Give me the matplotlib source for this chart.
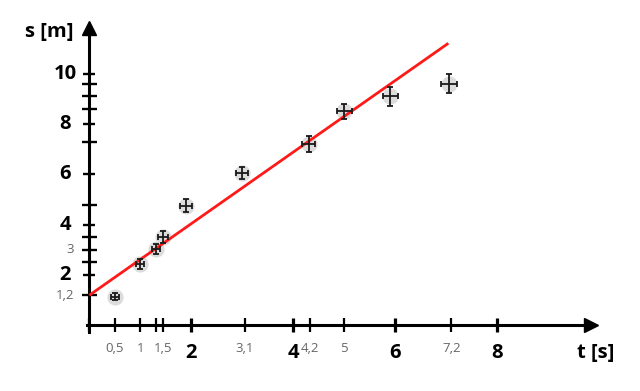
import matplotlib.pyplot as plt
import matplotlib.transforms as mtransforms
import numpy as np

plt.rcParams['font.family'] = ['Open Sans', 'DejaVu Sans']

# measured points (t in s, s in m) with their uncertainties
t = np.array([0.5, 1.0, 1.3, 1.45, 1.9, 3.0, 4.3, 5.0, 5.9, 7.05])
s = np.array([1.15, 2.45, 3.05, 3.5, 4.75, 6.05, 7.2, 8.5, 9.1, 9.6])
t_err = np.array([0.075, 0.08, 0.08, 0.1, 0.12, 0.12, 0.12, 0.15, 0.15, 0.15])
s_err = np.array([0.13, 0.19, 0.2, 0.24, 0.25, 0.24, 0.31, 0.3, 0.38, 0.39])

# fitted line endpoints
line_t = [0.0, 7.04]
line_s = [1.2, 11.2]

# axis ticks and labels (hand-placed on the original drawing)
x_major = [2, 4, 6, 8]
x_minor = [0, 0.5, 1, 1.3, 1.44, 3.05, 4.33, 5, 7.1]
x_minor_labels = ["", "0,5", "1", "", "1,5", "3,1", "4,2", "5", "7,2"]
y_major = [2, 4, 6, 8, 10]
y_minor = [1.2, 2.5, 3, 3.5, 4.8, 7.3, 8.6, 9.1, 9.6]
y_minor_labels = ["1,2", "", "3", "", "", "", "", "", ""]

fig = plt.figure(figsize=(6.4, 3.91), dpi=100)
ax = fig.add_axes([0, 0, 1, 1])
ax.set_xlim(-1.751, 10.798)
ax.set_ylim(-2.6, 12.917)

# axes through the origin
for side in ["top", "right"]:
    ax.spines[side].set_visible(False)
ax.spines["left"].set_position(("data", 0))
ax.spines["bottom"].set_position(("data", 0))
ax.spines["left"].set_bounds(-0.25, 11.7)
ax.spines["bottom"].set_bounds(-0.05, 9.75)
ax.spines["left"].set_linewidth(2.2)
ax.spines["bottom"].set_linewidth(2.2)
ax.plot(9.83, 0, marker=">", ms=10, color="black", clip_on=False)
ax.plot(0, 11.82, marker="^", ms=10, color="black", clip_on=False)

ax.set_xticks(x_major)
ax.set_xticks(x_minor, minor=True)
ax.set_yticks(y_major)
ax.set_yticks(y_minor, minor=True)
ax.tick_params(axis="x", which="major", direction="inout", length=9.5, width=2.3, labelbottom=False)
ax.tick_params(axis="x", which="minor", direction="inout", length=9.5, width=1.6, labelbottom=False)
ax.tick_params(axis="y", which="major", direction="inout", length=8, width=1.7, labelleft=False)
ax.tick_params(axis="y", which="minor", direction="inout", length=10.8, width=1.7, labelleft=False)

# tick labels
for v in x_major:
    tr = mtransforms.offset_copy(ax.transData, fig=fig, x=0, y=-28, units="dots")
    ax.text(v, 0, str(v), transform=tr, ha="center", va="center",
            fontsize=14.5, fontweight="bold", color="black")
for v, lab in zip(x_minor, x_minor_labels):
    tr = mtransforms.offset_copy(ax.transData, fig=fig, x=0, y=-23.5, units="dots")
    ax.text(v, 0, lab, transform=tr, ha="center", va="center",
            fontsize=9.5, color="#666666")
for v in y_major:
    tr = mtransforms.offset_copy(ax.transData, fig=fig, x=-24, y=0, units="dots")
    ax.text(0, v, str(v), transform=tr, ha="center", va="center",
            fontsize=14.5, fontweight="bold", color="black")
for v, lab in zip(y_minor, y_minor_labels):
    tr = mtransforms.offset_copy(ax.transData, fig=fig, x=-15, y=0, units="dots")
    ax.text(0, v, lab, transform=tr, ha="right", va="center",
            fontsize=9.5, color="#666666")

ax.text(-0.79, 11.63, "s [m]", ha="center", va="center", fontsize=14.5, fontweight="bold")
ax.text(9.93, -1.09, "t [s]", ha="center", va="center", fontsize=14.5, fontweight="bold")

# fit line
ax.plot(line_t, line_s, color="#ff1a1a", lw=2.0, zorder=3, solid_capstyle="butt")

# points: grey disc behind cross-shaped error bars
ax.scatter(t, s, s=135, color="#dcdcdc", zorder=2, linewidths=0)
ax.errorbar(t, s, xerr=t_err, yerr=s_err, fmt="none", ecolor="#1a1a1a",
            elinewidth=1.3, capsize=2.5, capthick=1.3, zorder=4)

fig.savefig("out.png", dpi=100)
